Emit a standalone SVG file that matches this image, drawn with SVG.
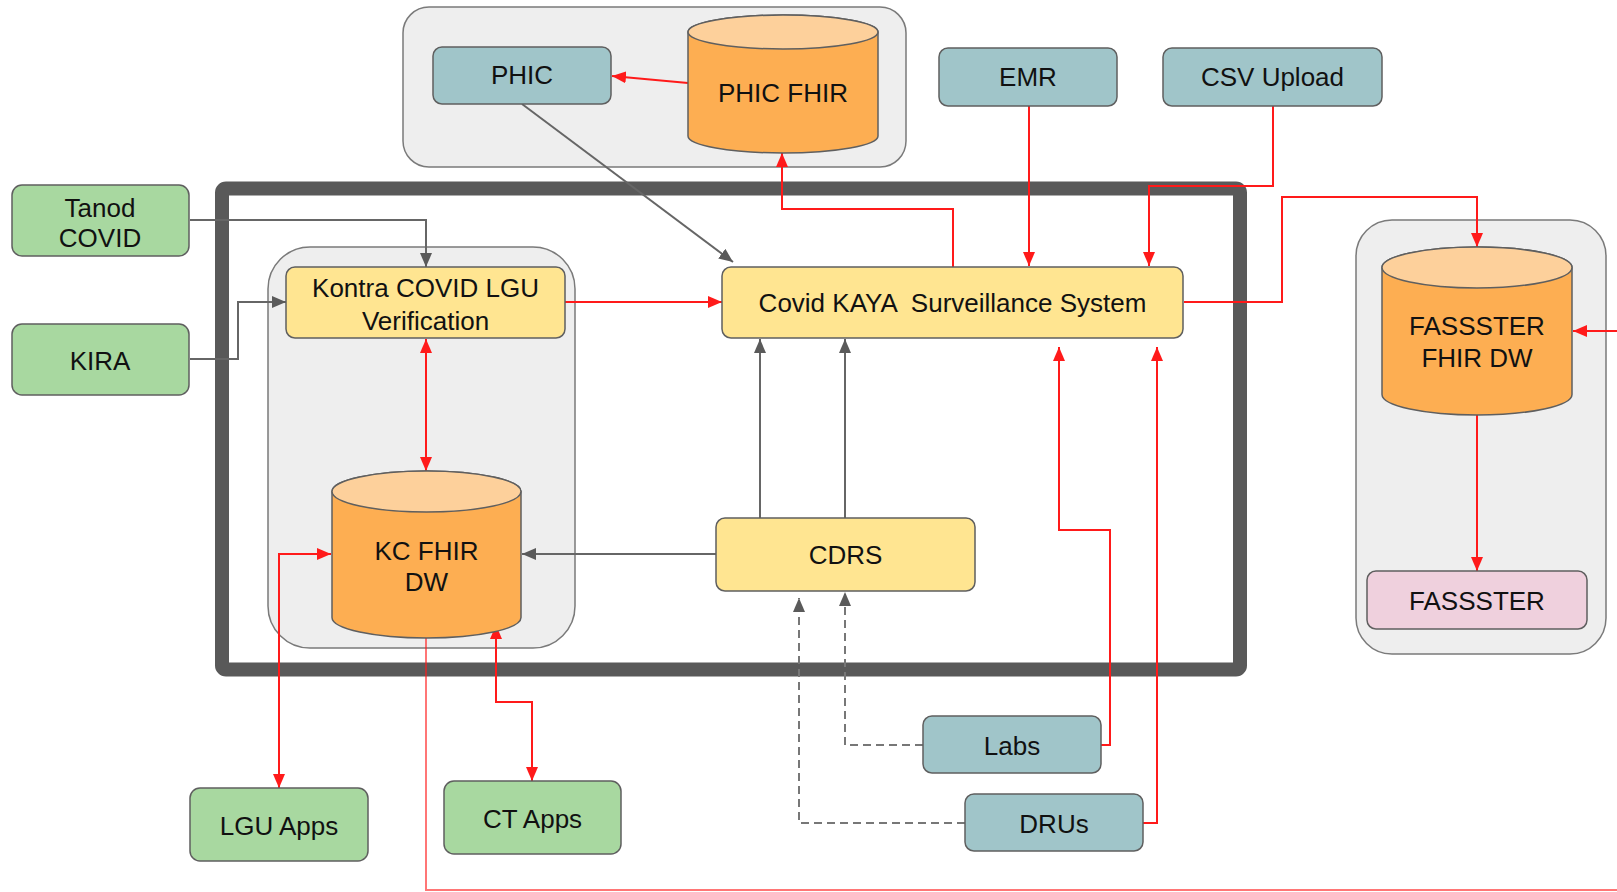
<svg xmlns="http://www.w3.org/2000/svg" width="1617" height="892" viewBox="0 0 1617 892">
<style>
text{font-family:"Liberation Sans",Arial,sans-serif;font-size:26px;fill:#111111;text-anchor:middle}
.grp{fill:#eeeeee;stroke:#7a7a7a;stroke-width:1.5}
.box{stroke:#5f5f5f;stroke-width:1.5}
.teal{fill:#a0c5c9}
.green{fill:#a8d8a0}
.yellow{fill:#ffe591}
.pink{fill:#efd0dd}
.cylb{fill:#fdae52;stroke:#5f5f5f;stroke-width:1.5}
.cylt{fill:#fdd09b;stroke:#5f5f5f;stroke-width:1.5}
.red{fill:none;stroke:#ff1a1a;stroke-width:2}
.gray{fill:none;stroke:#666666;stroke-width:2}
.dash{fill:none;stroke:#777777;stroke-width:2;stroke-dasharray:8 5}
</style>
<defs>
<marker id="ar" viewBox="0 0 14 12" refX="14" refY="6" markerWidth="14" markerHeight="12" markerUnits="userSpaceOnUse" orient="auto-start-reverse"><path d="M0,0 L14,6 L0,12 z" fill="#ff1a1a"/></marker>
<marker id="ag" viewBox="0 0 14 12" refX="14" refY="6" markerWidth="14" markerHeight="12" markerUnits="userSpaceOnUse" orient="auto-start-reverse"><path d="M0,0 L14,6 L0,12 z" fill="#5a5a5a"/></marker>
</defs>
<rect width="1617" height="892" fill="#ffffff"/>

<g id="phic-group"><rect class="grp" x="403" y="7" width="503" height="160" rx="26"/></g>
<g id="kontra-group"><rect class="grp" x="268" y="247" width="307" height="401" rx="42"/></g>
<g id="fassster-group"><rect class="grp" x="1356" y="220" width="250" height="434" rx="36"/></g>

<g id="system-frame"><rect x="222" y="188.5" width="1018" height="481" rx="4" fill="none" stroke="#595959" stroke-width="14"/></g>

<g id="connectors">
<path class="red" d="M688,83 L612,76" marker-end="url(#ar)"/>
<path class="gray" d="M522,104 L733,262" marker-end="url(#ag)"/>
<path class="gray" d="M190,220 H426 V267" marker-end="url(#ag)"/>
<path class="gray" d="M190,359 H238 V302 H286" marker-end="url(#ag)"/>
<path class="red" d="M565,302 H722" marker-end="url(#ar)"/>
<path class="red" d="M426,339 V471" marker-start="url(#ar)" marker-end="url(#ar)"/>
<path class="red" d="M953,267 V209 H782 V153" marker-end="url(#ar)"/>
<path class="red" d="M1029,106 V266" marker-end="url(#ar)"/>
<path class="red" d="M1273,106 V186 H1149 V266" marker-end="url(#ar)"/>
<path class="red" d="M1184,302 H1282 V197 H1477 V247" marker-end="url(#ar)"/>
<path class="red" d="M1617,331 H1573" marker-end="url(#ar)"/>
<path class="red" d="M1477,415 V571" marker-end="url(#ar)"/>
<path class="gray" d="M760,518 V339" marker-end="url(#ag)"/>
<path class="gray" d="M845,518 V339" marker-end="url(#ag)"/>
<path class="gray" d="M716,554 H522" marker-end="url(#ag)"/>
<path class="dash" d="M923,745 H845 V592" marker-end="url(#ag)"/>
<path class="dash" d="M965,823 H799 V598" marker-end="url(#ag)"/>
<path class="red" d="M1101,745 H1110 V530 H1059 V347" marker-end="url(#ar)"/>
<path class="red" d="M1143,823 H1157 V347" marker-end="url(#ar)"/>
<path class="red" d="M331,554 H279 V788" marker-start="url(#ar)" marker-end="url(#ar)"/>
<path class="red" d="M496,625 V702 H532 V781" marker-start="url(#ar)" marker-end="url(#ar)"/>
<path class="red" d="M426,638 V890 H1617" stroke-opacity="0.6"/>
</g>

<g id="phic"><rect class="box teal" x="433" y="47" width="178" height="57" rx="9"/><text x="522" y="84">PHIC</text></g>
<g id="phic-fhir">
<path class="cylb" d="M688,32 A95,17 0 0 1 878,32 V136 A95,17 0 0 1 688,136 Z"/>
<ellipse class="cylt" cx="783" cy="32" rx="95" ry="17"/>
<text x="783" y="102">PHIC FHIR</text>
</g>
<g id="emr"><rect class="box teal" x="939" y="48" width="178" height="58" rx="9"/><text x="1028" y="86">EMR</text></g>
<g id="csv-upload"><rect class="box teal" x="1163" y="48" width="219" height="58" rx="9"/><text x="1272.5" y="86">CSV Upload</text></g>
<g id="tanod-covid"><rect class="box green" x="12" y="185" width="177" height="71" rx="10"/><text x="100" y="217">Tanod</text><text x="100" y="247">COVID</text></g>
<g id="kira"><rect class="box green" x="12" y="324" width="177" height="71" rx="10"/><text x="100" y="370">KIRA</text></g>
<g id="kontra-covid"><rect class="box yellow" x="286" y="267" width="279" height="71" rx="9"/><text x="425.5" y="297">Kontra COVID LGU</text><text x="425.5" y="330">Verification</text></g>
<g id="covid-kaya"><rect class="box yellow" x="722" y="267" width="461" height="71" rx="9"/><text x="952.5" y="312" xml:space="preserve">Covid KAYA  Surveillance System</text></g>
<g id="kc-fhir-dw">
<path class="cylb" d="M332,491.5 A94.5,20.5 0 0 1 521,491.5 V617.5 A94.5,20.5 0 0 1 332,617.5 Z"/>
<ellipse class="cylt" cx="426.5" cy="491.5" rx="94.5" ry="20.5"/>
<text x="426.5" y="560">KC FHIR</text><text x="426.5" y="591">DW</text>
</g>
<g id="cdrs"><rect class="box yellow" x="716" y="518" width="259" height="73" rx="9"/><text x="845.5" y="564">CDRS</text></g>
<g id="fassster-fhir-dw">
<path class="cylb" d="M1382,267.5 A95,20.5 0 0 1 1572,267.5 V394.5 A95,20.5 0 0 1 1382,394.5 Z"/>
<ellipse class="cylt" cx="1477" cy="267.5" rx="95" ry="20.5"/>
<text x="1477" y="335">FASSSTER</text><text x="1477" y="367">FHIR DW</text>
</g>
<g id="fassster"><rect class="box pink" x="1367" y="571" width="220" height="58" rx="9"/><text x="1477" y="610">FASSSTER</text></g>
<g id="labs"><rect class="box teal" x="923" y="716" width="178" height="57" rx="9"/><text x="1012" y="755">Labs</text></g>
<g id="drus"><rect class="box teal" x="965" y="794" width="178" height="57" rx="9"/><text x="1054" y="833">DRUs</text></g>
<g id="lgu-apps"><rect class="box green" x="190" y="788" width="178" height="73" rx="10"/><text x="279" y="835">LGU Apps</text></g>
<g id="ct-apps"><rect class="box green" x="444" y="781" width="177" height="73" rx="10"/><text x="532.5" y="828">CT Apps</text></g>
</svg>
